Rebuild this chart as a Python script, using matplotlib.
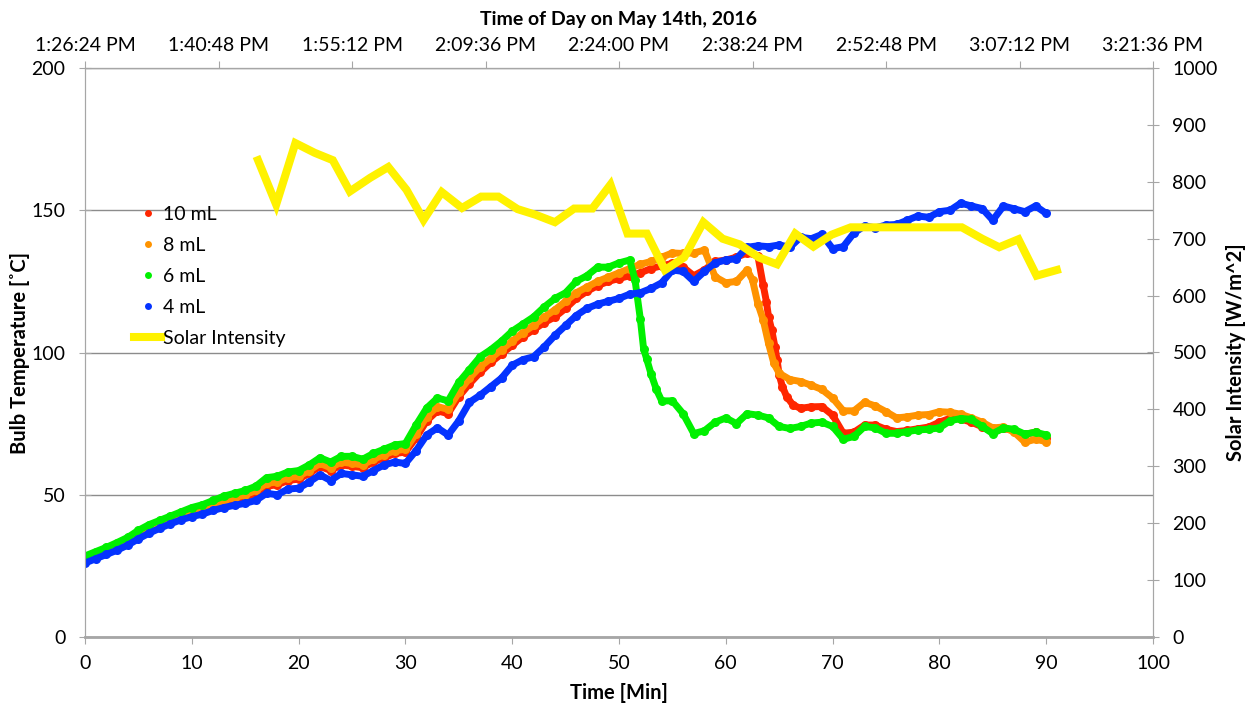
import numpy as np
import matplotlib.pyplot as plt
from matplotlib.lines import Line2D

plt.rcParams['font.family'] = ['Lato', 'DejaVu Sans']

# Bulb temperature readings (deg C) vs time (min)
t_10 = [0, 1, 2, 3, 4, 5, 6, 7, 8, 9, 10, 11, 12, 13, 14, 15, 16, 17, 18, 19, 20,
        21, 22, 23, 24, 25, 26, 27, 28, 29, 30, 31, 32, 33, 34, 35, 36, 37, 38, 39, 40,
        41, 42, 43, 44, 45, 46, 47, 48, 49, 50, 51, 52, 53, 54, 55, 56, 57, 58, 59, 60,
        61, 62, 63, 63.5, 63.8, 64, 64.3, 64.6, 64.8, 65, 65.3, 65.7, 66.3, 67, 68, 69, 70,
        71, 72, 73, 74, 75, 76, 77, 78, 79, 80, 81, 82, 83, 84, 85, 86, 87, 88, 89, 90]
temp_10 = [27.5, 29.0, 30.2, 31.8, 33.5, 35.5, 37.5, 39.2, 40.7, 42.0, 43.3, 44.3, 45.8, 47.2, 48.2,
           49.2, 50.5, 53.0, 53.5, 55.0, 55.5, 57.5, 60.0, 58.5, 60.5, 60.0, 59.5, 61.5, 63.0, 64.5,
           65.0, 70.0, 76.0, 79.5, 78.5, 84.5, 89.0, 93.0, 96.5, 99.5, 102.5, 105.5, 108.0, 110.5,
           112.5, 115.5, 119.0, 121.5, 123.5, 125.0, 126.0, 127.0, 128.0, 129.5, 130.5, 131.3, 130.0,
           127.0, 129.0, 132.0, 132.5, 133.5, 135.0, 134.0, 123.7, 117.9, 112.6, 107.9, 102.0, 97.4,
           92.1, 88.0, 84.5, 81.5, 80.4, 80.9, 81.0, 78.0, 71.6, 72.0, 74.5, 74.5, 73.0, 72.2, 72.6,
           73.2, 73.8, 75.5, 76.9, 76.6, 75.5, 73.9, 72.0, 73.3, 72.5, 71.2, 72.0, 69.8]

t_8 = [0, 1, 2, 3, 4, 5, 6, 7, 8, 9, 10, 11, 12, 13, 14, 15, 16, 17, 18, 19, 20,
       21, 22, 23, 24, 25, 26, 27, 28, 29, 30, 31, 32, 33, 34, 35, 36, 37, 38, 39, 40,
       41, 42, 43, 44, 45, 46, 47, 48, 49, 50, 51, 52, 53, 54, 55, 56, 57, 58, 59, 60,
       61, 62, 62.5, 63, 63.5, 64, 64.5, 65, 66, 67, 68, 69, 70,
       71, 72, 73, 74, 75, 76, 77, 78, 79, 80, 81, 82, 83, 84, 85, 86, 87, 88, 89, 90]
temp_8 = [27.8, 29.2, 30.5, 32.0, 34.0, 36.0, 38.0, 39.8, 41.3, 42.5, 44.0, 45.0, 46.5, 48.0, 49.0,
          50.0, 51.5, 54.0, 54.5, 56.0, 56.5, 58.5, 61.0, 59.5, 61.5, 61.0, 60.5, 62.5, 64.0, 65.5,
          66.0, 71.5, 77.5, 81.0, 80.0, 86.0, 91.0, 95.0, 98.0, 101.0, 104.0, 107.0, 109.5, 112.5,
          115.0, 118.0, 121.0, 123.0, 125.0, 126.5, 128.0, 129.5, 131.0, 132.0, 133.5, 135.0, 134.8,
          135.0, 136.0, 126.6, 124.5, 125.0, 129.0, 125.5, 117.2, 111.5, 103.2, 96.2, 92.7, 90.5,
          89.8, 88.5, 87.0, 84.0, 79.5, 79.5, 82.5, 81.2, 79.2, 77.0, 77.4, 78.0, 78.2, 79.2, 79.0,
          78.3, 77.0, 75.5, 73.5, 73.8, 72.0, 68.5, 69.5, 68.7]

t_6 = [0, 1, 2, 3, 4, 5, 6, 7, 8, 9, 10, 11, 12, 13, 14, 15, 16, 17, 18, 19, 20,
       21, 22, 23, 24, 25, 26, 27, 28, 29, 30, 31, 32, 33, 34, 35, 36, 37, 38, 39, 40,
       41, 42, 43, 44, 45, 46, 47, 48, 49, 50, 51, 51.5, 52, 52.3, 52.6, 53, 53.5, 54, 55,
       56, 57, 58, 59, 60, 61, 62, 63, 64, 65, 66, 67, 68, 69, 70,
       71, 72, 73, 74, 75, 76, 77, 78, 79, 80, 81, 82, 83, 84, 85, 86, 87, 88, 89, 90]
temp_6 = [28.5, 30.0, 31.5, 33.2, 35.0, 37.5, 39.5, 41.0, 42.5, 44.0, 45.5, 46.5, 48.0, 49.5, 50.5,
          51.5, 53.0, 56.0, 56.5, 58.0, 58.5, 60.5, 63.0, 61.5, 63.5, 63.5, 62.5, 64.5, 66.0, 67.5,
          68.0, 74.5, 80.5, 84.0, 83.0, 89.5, 94.0, 98.5, 101.0, 104.0, 107.5, 110.0, 112.5, 116.0,
          119.0, 121.0, 125.0, 127.0, 130.0, 130.0, 131.5, 132.5, 125.5, 111.7, 101.4, 97.6, 92.5,
          87.0, 83.0, 83.0, 78.5, 71.5, 72.5, 75.5, 77.0, 75.0, 78.5, 78.0, 77.0, 74.0, 73.3, 74.0,
          75.2, 75.5, 74.0, 69.5, 70.5, 74.0, 73.5, 71.6, 71.6, 72.2, 72.8, 73.0, 73.5, 76.0, 76.8,
          76.5, 74.0, 71.5, 73.5, 73.0, 71.3, 72.0, 71.0]

t_4 = list(range(0, 91))
temp_4 = [26.0, 27.5, 29.0, 30.5, 32.3, 34.5, 36.5, 38.2, 39.8, 41.2, 42.3, 43.2, 44.5, 45.5, 46.3,
          47.0, 48.0, 50.5, 50.0, 52.0, 52.3, 54.5, 57.0, 55.0, 57.5, 57.0, 56.5, 58.5, 60.5, 61.5,
          61.0, 65.5, 71.0, 73.5, 71.0, 76.0, 82.5, 85.0, 88.0, 91.0, 95.5, 97.5, 98.5, 102.0, 106.0,
          109.5, 113.0, 115.5, 117.0, 118.0, 119.0, 120.5, 121.0, 122.5, 124.5, 129.0, 128.5, 125.0,
          128.5, 131.5, 132.5, 133.0, 137.0, 137.5, 137.2, 137.8, 137.0, 140.5, 140.0, 141.5, 136.5,
          137.2, 142.0, 144.5, 143.8, 144.8, 145.0, 146.5, 148.0, 147.5, 149.5, 150.0, 152.5, 151.5,
          150.6, 146.5, 151.5, 150.5, 149.5, 151.5, 148.9]

# Solar intensity (W/m^2)
t_solar = [16.2, 17.9, 19.7, 21.5, 23.2, 24.8, 26.7, 28.4, 30.1, 31.7, 33.4, 35.3, 37.1, 38.7,
           40.5, 42.2, 44.0, 45.8, 47.5, 49.2, 50.8, 52.6, 54.3, 56.1, 57.9, 59.7, 61.3, 63.1,
           64.8, 66.5, 68.2, 69.9, 71.7, 73.5, 75.3, 77.0, 78.7, 80.4, 82.1, 84.0, 85.6, 87.4,
           89.1, 91.0]
solar = [838, 760, 868, 851, 838, 783, 807, 826, 786, 733, 782, 754, 774, 774,
         752, 742, 729, 753, 753, 795, 709, 709, 645, 667, 729, 700, 690, 667,
         655, 709, 686, 707, 720, 720, 720, 720, 720, 720, 720, 700, 685, 699,
         635, 645]

series_labels = ['10 mL', '8 mL', '6 mL', '4 mL']
series_colors = ['#FF2600', '#FF9300', '#00F000', '#0433FF']
top_labels = ['1:26:24 PM', '1:40:48 PM', '1:55:12 PM', '2:09:36 PM', '2:24:00 PM',
              '2:38:24 PM', '2:52:48 PM', '3:07:12 PM', '3:21:36 PM']

fig = plt.figure(figsize=(12.51, 7.06), dpi=100)
ax = fig.add_axes([85/1251, 69/706, (1153-85)/1251, (637-68)/706])
gray = '#A6A6A6'
fs = 14

times = [t_10, t_8, t_6, t_4]
temps = [temp_10, temp_8, temp_6, temp_4]
for t, y, c in zip(times, temps, series_colors):
    ax.plot(t, y, '-', color=c, lw=5, solid_joinstyle='round', solid_capstyle='round', zorder=3)
    ax.plot(t, y, 'o', color=c, ms=6.5, mew=0, zorder=3)

ax.set_xlim(0, 100)
ax.set_ylim(0, 200)
ax.set_xticks(np.arange(0, 101, 10))
ax.set_yticks(np.arange(0, 201, 50))
ax.grid(axis='y', color='#8C8C8C', lw=1)
ax.set_axisbelow(True)
ax.tick_params(axis='x', direction='out', length=5, color=gray, labelsize=fs, pad=8)
ax.tick_params(axis='y', direction='inout', length=8, color=gray, labelsize=fs, pad=10)
for s in ax.spines.values():
    s.set_color(gray)
ax.spines['bottom'].set_linewidth(2)
ax.set_xlabel('Time [Min]', fontsize=14.5, fontweight='bold', labelpad=8)
ax.set_ylabel('Bulb Temperature [˚C]', fontsize=14.5, fontweight='bold', labelpad=1)

# top time-of-day axis
top = ax.secondary_xaxis('top')
top.set_xticks(np.linspace(0, 100, 9), labels=top_labels)
top.tick_params(direction='out', length=5, color=gray, labelsize=fs, pad=5)
top.spines['top'].set_color(gray)
top.set_xlabel('Time of Day on May 14th, 2016', fontsize=14, fontweight='bold', labelpad=9)

ax2 = ax.twinx()
ax2.plot(t_solar, solar, '-', color='#FFF200', lw=5.8, solid_joinstyle='miter', zorder=4)
ax2.set_ylim(0, 1000)
ax2.set_yticks(np.arange(0, 1001, 100))
ax2.tick_params(axis='y', direction='inout', length=8, color=gray, labelsize=fs, pad=10)
for s in ax2.spines.values():
    s.set_color(gray)
ax2.set_ylabel('Solar Intensity [W/m^2]', fontsize=14.5, fontweight='bold', labelpad=6)

handles = [Line2D([], [], ls='none', marker='o', ms=5, mew=0, color=c) for c in series_colors]
handles.append(Line2D([], [], color='#FFF200', lw=5.8))
ax2.legend(handles, series_labels + ['Solar Intensity'], loc='upper left',
           bbox_to_anchor=(134/1251, 1 - 206/706), bbox_transform=fig.transFigure,
           frameon=False, fontsize=fs, handlelength=1.4, handletextpad=0.1,
           labelspacing=0.72, borderpad=0, borderaxespad=0)

fig.savefig('out.png', dpi=100)
